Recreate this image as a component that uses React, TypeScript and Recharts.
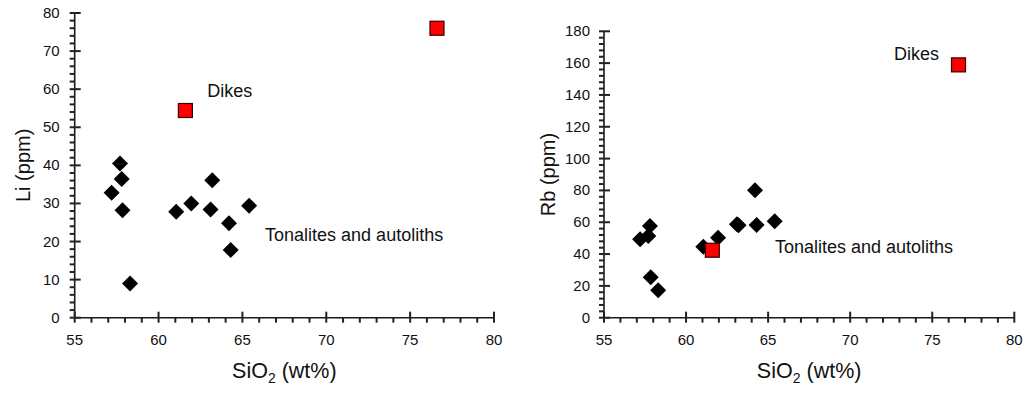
import { ReferenceDot, Scatter, ScatterChart, XAxis, YAxis } from "recharts";

// SiO2 (wt%) of the tonalite/autolith samples
const tonaliteSio2 = [57.2, 57.7, 57.8, 57.85, 58.3, 61.05, 61.95, 63.1, 63.2, 64.2, 64.3, 65.4];
const tonaliteLi = [32.8, 40.5, 36.4, 28.2, 9.0, 27.8, 30.0, 28.4, 36.1, 24.8, 17.8, 29.4];
const tonaliteRb = [49.3, 51.3, 57.6, 25.4, 17.2, 44.6, 50.3, 58.7, 58.1, 80.1, 58.3, 60.6];

// dikes
const dikeSio2 = [61.6, 76.6];
const dikeLi = [54.4, 76.0];
const dikeRb = [42.4, 158.9];

const xMajorTicks = [55, 60, 65, 70, 75, 80];
const liMajorTicks = [0, 10, 20, 30, 40, 50, 60, 70, 80];
const rbMajorTicks = [0, 20, 40, 60, 80, 100, 120, 140, 160, 180];

const minorTicks = (from: number, to: number, step: number) => {
	const out: number[] = [];
	for (let v = from; v <= to + 1e-9; v += step) out.push(Math.round(v * 100) / 100);
	return out;
};

const FONT = "'Liberation Sans', Arial, sans-serif";
const AXIS = "#1a1a1a";
const TICK_COLOR = "#222222";

const toPoints = (xs: number[], ys: number[]) => xs.map((x, i) => ({ x, y: ys[i] }));

const Diamond = (props: any) => {
	const { cx, cy } = props;
	const r = 8;
	return <polygon points={`${cx},${cy - r} ${cx + r},${cy} ${cx},${cy + r} ${cx - r},${cy}`} fill="#000" />;
};

const RedSquare = (props: any) => {
	const { cx, cy } = props;
	const s = 14;
	return <rect x={cx - s / 2} y={cy - s / 2} width={s} height={s} fill="#ff0000" stroke="#3a0000" strokeWidth={1.2} />;
};

// tick marks as small filled rects: majors cross the axis, minors sit outside
const makeXTick = (majors: number[]) => (props: any) => {
	const { x, y, payload } = props;
	const major = majors.includes(payload.value);
	return (
		<g>
			<rect x={x - 1} y={major ? y - 6 : y} width={2} height={major ? 11 : 5} fill={TICK_COLOR} />
			{major && (
				<text x={x} y={y + 27} textAnchor="middle" fontSize={15} fontFamily={FONT} fill="#111">
					{payload.value}
				</text>
			)}
		</g>
	);
};

const makeYTick = (majors: number[], gap: number) => (props: any) => {
	const { x, y, payload } = props;
	const major = majors.includes(payload.value);
	return (
		<g>
			<rect x={x - 5} y={y - 1} width={major ? 11 : 5} height={2} fill={TICK_COLOR} />
			{major && (
				<text x={x - gap} y={y + 5} textAnchor="end" fontSize={15} fontFamily={FONT} fill="#111">
					{payload.value}
				</text>
			)}
		</g>
	);
};

const xTitle = (props: any) => {
	const { x, y, width } = props.viewBox;
	return (
		<text x={x + width / 2} y={y + 60} textAnchor="middle" fontSize={21.5} fontFamily={FONT} fill="#111">
			SiO
			<tspan fontSize={14} dy={5}>
				2
			</tspan>
			<tspan dy={-5}> (wt%)</tspan>
		</text>
	);
};

const yTitle = (text: string, dx: number) => (props: any) => {
	const { x, y, height } = props.viewBox;
	const cx = x + dx;
	const cy = y + height / 2;
	return (
		<text
			x={cx}
			y={cy}
			textAnchor="middle"
			dominantBaseline="central"
			fontSize={20}
			fontFamily={FONT}
			fill="#111"
			transform={`rotate(-90 ${cx} ${cy})`}
		>
			{text}
		</text>
	);
};

const note = (text: string) => (props: any) => {
	const { x, y } = props.viewBox;
	return (
		<text x={x} y={y} dominantBaseline="central" fontSize={18} fontFamily={FONT} fill="#111">
			{text}
		</text>
	);
};

interface PanelProps {
	left: number;
	width: number;
	top: number;
	right: number;
	yAxisWidth: number;
	yMax: number;
	yMajors: number[];
	yMinorStep: number;
	yLabelGap: number;
	yLabel: string;
	yLabelDx: number;
	tonalites: { x: number; y: number }[];
	dikes: { x: number; y: number }[];
	dikesNote: [number, number];
	tonaliteNote: [number, number];
}

function Panel(p: PanelProps) {
	const xTicks = minorTicks(55, 80, 1);
	const yTicks = minorTicks(0, p.yMax, p.yMinorStep);
	return (
		<div style={{ position: "absolute", left: p.left, top: 0 }}>
			<ScatterChart width={p.width} height={393} margin={{ top: p.top, right: p.right, bottom: 0, left: 0 }}>
				<XAxis
					type="number"
					dataKey="x"
					domain={[55, 80]}
					ticks={xTicks}
					interval={0}
					height={75.3}
					tickSize={0}
					tickMargin={0}
					tickLine={false}
					axisLine={{ stroke: AXIS, strokeWidth: 1.6 }}
					tick={makeXTick(xMajorTicks)}
					label={{ content: xTitle }}
				/>
				<YAxis
					type="number"
					dataKey="y"
					domain={[0, p.yMax]}
					ticks={yTicks}
					interval={0}
					width={p.yAxisWidth}
					tickSize={0}
					tickMargin={0}
					tickLine={false}
					axisLine={{ stroke: AXIS, strokeWidth: 1.6 }}
					tick={makeYTick(p.yMajors, p.yLabelGap)}
					label={{ content: yTitle(p.yLabel, p.yLabelDx) }}
				/>
				<Scatter data={p.tonalites} shape={Diamond} isAnimationActive={false} />
				<Scatter data={p.dikes} shape={RedSquare} isAnimationActive={false} />
				<ReferenceDot
					x={p.dikesNote[0]}
					y={p.dikesNote[1]}
					r={0}
					fill="none"
					stroke="none"
					label={{ content: note("Dikes") }}
				/>
				<ReferenceDot
					x={p.tonaliteNote[0]}
					y={p.tonaliteNote[1]}
					r={0}
					fill="none"
					stroke="none"
					label={{ content: note("Tonalites and autoliths") }}
				/>
			</ScatterChart>
		</div>
	);
}

export default function App() {
	return (
		<div style={{ position: "absolute", left: 0, top: 0, width: 1026, height: 393, background: "#fff" }}>
			<Panel
				left={0}
				width={510}
				top={13}
				right={16}
				yAxisWidth={74.7}
				yMax={80}
				yMajors={liMajorTicks}
				yMinorStep={2}
				yLabelGap={15}
				yLabel="Li (ppm)"
				yLabelDx={23}
				tonalites={toPoints(tonaliteSio2, tonaliteLi)}
				dikes={toPoints(dikeSio2, dikeLi)}
				dikesNote={[62.9, 59.5]}
				tonaliteNote={[66.35, 21.7]}
			/>
			<Panel
				left={520}
				width={506}
				top={31.3}
				right={11.7}
				yAxisWidth={84}
				yMax={180}
				yMajors={rbMajorTicks}
				yMinorStep={4}
				yLabelGap={14}
				yLabel="Rb (ppm)"
				yLabelDx={28}
				tonalites={toPoints(tonaliteSio2, tonaliteRb)}
				dikes={toPoints(dikeSio2, dikeRb)}
				dikesNote={[72.67, 165.7]}
				tonaliteNote={[65.42, 44.4]}
			/>
		</div>
	);
}
